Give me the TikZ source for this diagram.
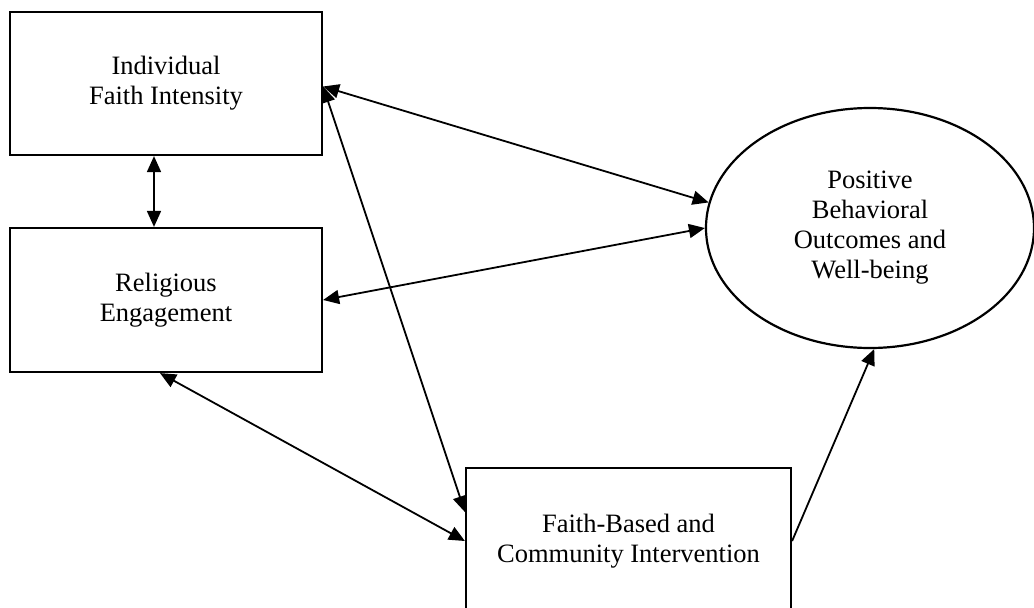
\documentclass[tikz,border=0pt]{standalone}
\usepackage{fontspec}
\setmainfont{Liberation Serif}
\usetikzlibrary{arrows.meta,shapes.geometric}

\begin{document}
\begin{tikzpicture}[x=1pt,y=-1pt,
  box/.style={draw, line width=2.2pt, fill=white, align=center, inner sep=0pt,
    font=\fontsize{26.5}{30}\selectfont},
  twoway/.style={line width=1.8pt, {Triangle[length=16pt,width=14pt]}-{Triangle[length=16pt,width=14pt]}},
  oneway/.style={line width=1.8pt, -{Triangle[length=16pt,width=14pt]}}]
\useasboundingbox (0,0) rectangle (1034,608);
\node[box, minimum width=312pt, minimum height=143pt] (faith) at (166,83.5) {Individual\\Faith Intensity};
\node[box, minimum width=312pt, minimum height=144pt] (religion) at (166,300) {Religious\\Engagement};
\node[box, minimum width=325pt, minimum height=146pt] (intervention) at (628.5,541) {Faith-Based and\\Community Intervention};
\node[box, ellipse, minimum width=328pt, minimum height=240pt] (outcome) at (870,228) {Positive\\Behavioral\\Outcomes and\\Well-being};
\draw[twoway] ([xshift=-12pt]faith.south) -- ([xshift=-12pt]religion.north);
\draw[twoway] ([yshift=-3pt]faith.east) -- (outcome.171);
\draw[twoway] (religion.east) -- (outcome.180);
\draw[twoway] ([yshift=-3pt]faith.east) -- ([yshift=29pt]intervention.west);
\draw[twoway] ([xshift=-6pt]religion.south) -- (intervention.west);
\draw[oneway] (intervention.east) -- (outcome.272);
\end{tikzpicture}
\end{document}
